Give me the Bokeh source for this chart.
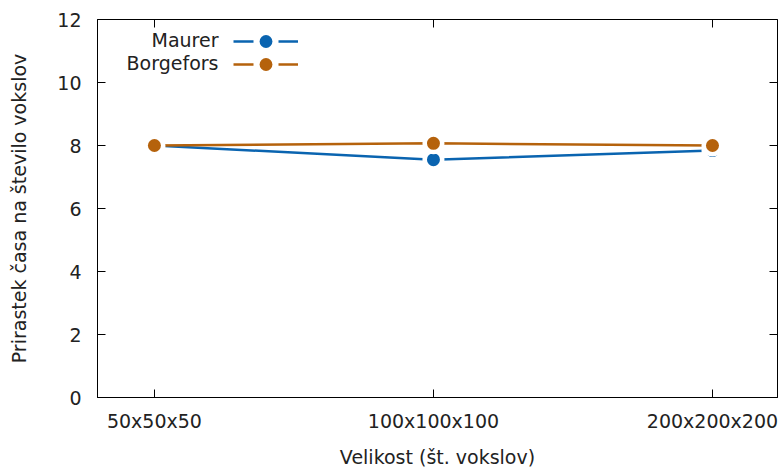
from bokeh.plotting import figure
from bokeh.models import Range1d, FixedTicker, LinearAxis, Legend, LegendItem, Label, CustomJSTickFormatter
from bokeh.embed import file_html
from bokeh.resources import INLINE

categories = ["50x50x50", "100x100x100", "200x200x200"]
maurer = [8.0, 7.55, 7.84]
borgefors = [8.0, 8.07, 8.0]
series_names = ["Maurer", "Borgefors"]
y_ticks = [0, 2, 4, 6, 8, 10, 12]

BLUE = "#0a64b0"
ORANGE = "#b5620c"
FONT = "DejaVu Sans"
FS = "19px"
TXT = "#222222"

xs = list(range(len(categories)))

p = figure(width=783, height=470, output_backend="svg", toolbar_location=None,
           x_range=Range1d(-0.204, 2.233), y_range=Range1d(0, 12),
           min_border_left=97, min_border_right=6, min_border_top=19, min_border_bottom=70)
p.grid.visible = False
p.outline_line_color = "black"
p.outline_line_width = 1
p.background_fill_color = "white"
p.border_fill_color = "white"

xa = p.xaxis[0]
xa.ticker = FixedTicker(ticks=xs)
xa.major_label_overrides = {i: c for i, c in enumerate(categories)}
xa.axis_label = "Velikost (št. vokslov)"
ya = p.yaxis[0]
ya.ticker = FixedTicker(ticks=y_ticks)
ya.axis_label = "Prirastek časa na število vokslov"
for ax in (xa, ya):
    ax.major_tick_in = 8
    ax.major_tick_out = 0
    ax.minor_tick_line_color = None
    ax.axis_line_color = "black"
    ax.major_tick_line_color = "black"
    ax.major_label_text_font = FONT
    ax.major_label_text_font_size = FS
    ax.major_label_text_color = TXT
    ax.axis_label_text_font = FONT
    ax.axis_label_text_font_size = FS
    ax.axis_label_text_font_style = "normal"
    ax.axis_label_text_color = TXT
xa.major_label_standoff = 12
xa.axis_label_standoff = 11
ya.major_label_standoff = 16
ya.axis_label_standoff = 24

blank = CustomJSTickFormatter(code="return ''")
top = LinearAxis(ticker=FixedTicker(ticks=xs), formatter=blank, major_tick_in=8, major_tick_out=0,
                 minor_tick_line_color=None, axis_line_color=None, major_label_standoff=0,
                 major_label_text_font_size="0px")
right = LinearAxis(ticker=FixedTicker(ticks=y_ticks), formatter=blank, major_tick_in=8, major_tick_out=0,
                   minor_tick_line_color=None, axis_line_color=None, major_label_standoff=0,
                   major_label_text_font_size="0px")
p.add_layout(top, "above")
p.add_layout(right, "right")

legend_y = [340, 317]
for i, (vals, col) in enumerate(((maurer, BLUE), (borgefors, ORANGE))):
    p.line(xs, vals, line_color=col, line_width=2.5)
    p.scatter(xs, vals, size=22, fill_color="white", line_color=None)
    p.scatter(xs, vals, size=13, fill_color=col, line_color=None)
    # hidden legend-sample renderers (gnuplot-style "—●—" key)
    ll = p.line(xs, vals, line_color=col, line_width=2.5, line_dash="20 25", visible=False)
    ld = p.scatter(xs, vals, size=13, fill_color=col, line_color=None, visible=False)
    leg = Legend(items=[LegendItem(label=" ", renderers=[ll, ld])], location=(136, legend_y[i]),
                 padding=0, margin=0, spacing=0,
                 glyph_width=65, glyph_height=32, label_height=20, label_width=0,
                 label_standoff=0, border_line_color=None, background_fill_alpha=0,
                 inactive_fill_alpha=0)
    p.add_layout(leg, "center")

for i, name in enumerate(series_names):
    p.add_layout(Label(x=121, y=358 - 23 * i, x_units="screen", y_units="screen", text=name,
                       text_align="right", text_baseline="middle", text_font=FONT,
                       text_font_size=FS, text_color=TXT))

open("out.html", "w").write(file_html(p, INLINE))
